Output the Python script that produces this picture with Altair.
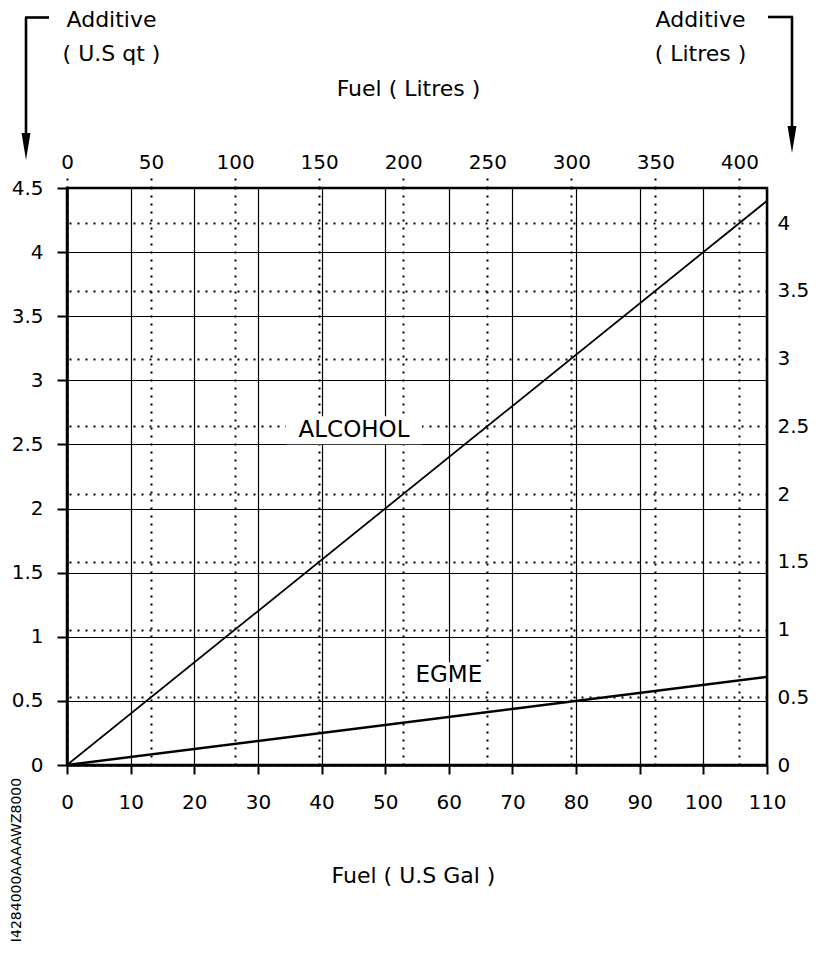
import altair as alt
import pandas as pd

# ---- data ----
fuel_gal = [0, 110]
alcohol_qt = [0.0, 4.4]
egme_qt = [0.0, 0.6875]

label_names = ["ALCOHOL", "EGME"]
label_gal = [45.1, 60.0]
label_qt = [2.61, 0.70]

gal_ticks = [0, 10, 20, 30, 40, 50, 60, 70, 80, 90, 100, 110]
qt_ticks = [0, 0.5, 1, 1.5, 2, 2.5, 3, 3.5, 4, 4.5]
litre_fuel_ticks = [0, 50, 100, 150, 200, 250, 300, 350, 400]
litre_add_ticks = [0, 0.5, 1, 1.5, 2, 2.5, 3, 3.5, 4]

L_PER_GAL = 3.78541
L_PER_QT = 0.946353

W, H = 700, 577
FONT = "DejaVu Sans"
LBL = 20
TTL = 22

one = pd.DataFrame({"k": [0]})

alc_df = pd.DataFrame({"gal": fuel_gal, "qt": alcohol_qt})
egme_df = pd.DataFrame({"gal": fuel_gal, "qt": egme_qt})
lab_df = pd.DataFrame({"name": label_names, "gal": label_gal, "qt": label_qt})

xA = alt.X(
    "gal:Q",
    scale=alt.Scale(domain=[0, 110], nice=False, zero=False),
    axis=alt.Axis(
        orient="bottom", values=gal_ticks, format="d", grid=True, gridColor="black", gridWidth=1.2,
        gridOpacity=1, tickSize=9, tickWidth=2, tickColor="black", domainColor="black",
        domainWidth=2.5, labelFont=FONT, labelFontSize=LBL, labelColor="black",
        labelPadding=18, labelFlush=False, labelOverlap=False,
        title="Fuel ( U.S Gal )", titleFont=FONT, titleFontSize=TTL, titleFontWeight="normal",
        titleColor="black", titleX=346, titleY=117, titleAlign="center", titleBaseline="alphabetic",
    ),
)
yA = alt.Y(
    "qt:Q",
    scale=alt.Scale(domain=[0, 4.5], nice=False, zero=False),
    axis=alt.Axis(
        orient="left", values=qt_ticks, format="~g", grid=True, gridColor="black", gridWidth=1.2,
        gridOpacity=1, tickSize=10, tickWidth=2, tickColor="black", domainColor="black",
        domainWidth=2.5, labelFont=FONT, labelFontSize=LBL, labelColor="black",
        labelPadding=14, labelFlush=False, labelOverlap=False,
        title=["Additive", "( U.S qt )"], titleFont=FONT, titleFontSize=TTL,
        titleFontWeight="normal", titleColor="black", titleAngle=0, titleX=44, titleY=-169,
        titleAlign="center", titleBaseline="middle", titleLineHeight=34,
    ),
)

alc_line = alt.Chart(alc_df).mark_line(color="black", strokeWidth=1.8).encode(x=xA, y=yA)
egme_line = alt.Chart(egme_df).mark_line(color="black", strokeWidth=2.4).encode(
    x=alt.X("gal:Q"), y=alt.Y("qt:Q"))

boxes = []
box_dims = {"ALCOHOL": (136, 28), "EGME": (84, 26)}
for nm in label_names:
    w, h = box_dims[nm]
    hh = h / w
    path = f"M-1,-{hh:.4f}L1,-{hh:.4f}L1,{hh:.4f}L-1,{hh:.4f}Z"
    boxes.append(
        alt.Chart(lab_df[lab_df["name"] == nm]).mark_point(
            shape=path, size=w * w, filled=True, fill="white", strokeWidth=0, opacity=1
        ).encode(x=alt.X("gal:Q"), y=alt.Y("qt:Q"))
    )

texts = alt.Chart(lab_df).mark_text(
    font=FONT, fontSize=23, color="black", align="center", baseline="middle"
).encode(x=alt.X("gal:Q"), y=alt.Y("qt:Q"), text="name:N")

# arrows next to the additive axis titles
rule_kw = dict(color="black", strokeWidth=2.6)
arrows = [
    alt.Chart(one).mark_rule(**rule_kw).encode(x=alt.value(-41), y=alt.value(-170.5), y2=alt.value(-50)),
    alt.Chart(one).mark_rule(**rule_kw).encode(x=alt.value(-42), x2=alt.value(-18), y=alt.value(-170.5)),
    alt.Chart(one).mark_rule(**rule_kw).encode(x=alt.value(725), y=alt.value(-171), y2=alt.value(-55)),
    alt.Chart(one).mark_rule(**rule_kw).encode(x=alt.value(701), x2=alt.value(726), y=alt.value(-171)),
]
head = "M-0.33,-1L0.33,-1L0,1Z"
arrows.append(alt.Chart(one).mark_point(shape=head, size=729, filled=True, fill="black",
                                        strokeWidth=0, opacity=1).encode(x=alt.value(-41), y=alt.value(-41.5)))
arrows.append(alt.Chart(one).mark_point(shape=head, size=729, filled=True, fill="black",
                                        strokeWidth=0, opacity=1).encode(x=alt.value(725), y=alt.value(-48.5)))

ident = alt.Chart(one).mark_text(
    font=FONT, fontSize=14, color="black", angle=270, align="center", baseline="middle"
).encode(x=alt.value(-50), y=alt.value(672), text=alt.value("I4284000AAAAWZ8000"))

layerA = alt.layer(alc_line, egme_line, *boxes, texts, *arrows, ident)

# litre scales (top / right)
litre_df = pd.DataFrame({"L": [0, 110 * L_PER_GAL], "A": [0, 4.5 * L_PER_QT]})
layerB = alt.Chart(litre_df).mark_point(opacity=0).encode(
    x=alt.X(
        "L:Q",
        scale=alt.Scale(domain=[0, 110 * L_PER_GAL], nice=False, zero=False),
        axis=alt.Axis(
            orient="top", values=litre_fuel_ticks, format="d", grid=True, gridColor="black",
            gridWidth=2, gridDash=[2, 6], gridOpacity=1, tickSize=11, tickWidth=2,
            tickDash=[2, 6], tickColor="black", domain=False, labelFont=FONT,
            labelFontSize=LBL, labelColor="black", labelPadding=5, labelFlush=False,
            labelOverlap=False, title="Fuel ( Litres )", titleFont=FONT, titleFontSize=TTL,
            titleFontWeight="normal", titleColor="black", titleX=341, titleY=-93,
            titleAlign="center", titleBaseline="alphabetic",
        ),
    ),
    y=alt.Y(
        "A:Q",
        scale=alt.Scale(domain=[0, 4.5 * L_PER_QT], nice=False, zero=False),
        axis=alt.Axis(
            orient="right", values=litre_add_ticks, format="~g", grid=True, gridColor="black",
            gridWidth=2, gridDash=[2, 6], gridOpacity=1, ticks=False, domain=False,
            labelFont=FONT, labelFontSize=LBL, labelColor="black", labelPadding=10,
            labelFlush=False, labelOverlap=False, title=["Additive", "( Litres )"],
            titleFont=FONT, titleFontSize=TTL, titleFontWeight="normal", titleColor="black",
            titleAngle=0, titleX=-67, titleY=-169, titleAlign="center",
            titleBaseline="middle", titleLineHeight=34,
        ),
    ),
)

chart = alt.layer(layerA, layerB).resolve_scale(x="independent", y="independent").properties(
    width=W, height=H,
    autosize=alt.AutoSizeParams(type="none"),
    padding={"left": 59, "top": 180, "right": 46, "bottom": 180},
    background="white",
).configure_view(stroke="black", strokeWidth=2.5)

chart.save("out.html", embed_options={"renderer": "svg", "actions": False})
